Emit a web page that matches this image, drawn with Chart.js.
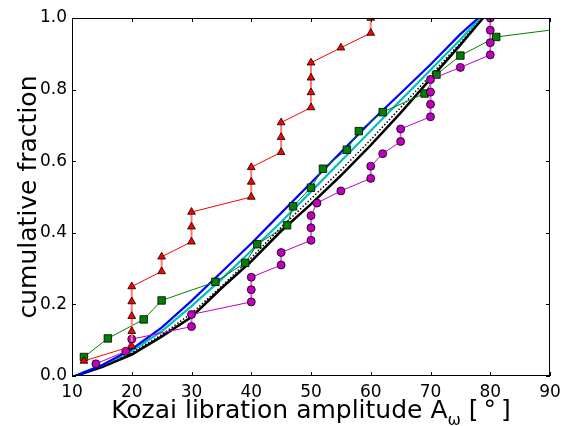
<!DOCTYPE html>
<html lang="en">
<head>
    <meta charset="UTF-8">
    <title>Kozai libration amplitude - cumulative fraction</title>
    <script src="https://cdn.jsdelivr.net/npm/chart.js"></script>
    <style>
        body {
            margin: 0;
            background-color: white;
        }
    </style>
</head>
<body>
    <canvas id="cdfChart" width="570" height="426"></canvas>

    <script>
        // axis ticks
        const xTickVals = [10, 20, 30, 40, 50, 60, 70, 80, 90];
        const yTickVals = [0, 0.2, 0.4, 0.6, 0.8, 1.0];
        const yTickLabels = ['0.0', '0.2', '0.4', '0.6', '0.8', '1.0'];

        // red triangles
        const redX = [12, 20, 20, 20, 20, 20, 25, 25, 30, 30, 30, 40, 40, 40, 45, 45, 45, 50, 50, 50, 50, 55, 60, 60];
        const redY = [0.042, 0.083, 0.125, 0.167, 0.208, 0.25, 0.292, 0.333, 0.375, 0.417, 0.458, 0.5, 0.542, 0.583,
                      0.625, 0.667, 0.708, 0.75, 0.792, 0.833, 0.875, 0.917, 0.958, 1.0];

        // green squares (last one sits off the right edge)
        const greenX = [12, 16, 22, 25, 34, 39, 41, 46, 47, 50, 52, 56, 58, 62, 69, 71, 75, 81, 106];
        const greenY = [0.053, 0.105, 0.158, 0.211, 0.263, 0.316, 0.368, 0.421, 0.474, 0.526, 0.579, 0.632,
                        0.684, 0.737, 0.789, 0.842, 0.895, 0.947, 1.0];

        // magenta circles
        const magX = [14, 19, 20, 30, 30, 40, 40, 40, 45, 45, 50, 50, 50, 51, 55, 60, 60, 62, 65, 65, 70, 70, 70, 70,
                      75, 80, 80, 80, 80];
        const magY = [0.034, 0.069, 0.103, 0.138, 0.172, 0.207, 0.241, 0.276, 0.310, 0.345, 0.379, 0.414, 0.448,
                      0.483, 0.517, 0.552, 0.586, 0.621, 0.655, 0.690, 0.724, 0.759, 0.793, 0.828, 0.862, 0.897,
                      0.931, 0.966, 1.0];

        // smooth curves
        const blueX = [10.5, 12, 15, 20, 25, 30, 35, 40, 45, 50, 55, 60, 65, 70, 75, 78];
        const blueY = [0, 0.01, 0.03, 0.075, 0.135, 0.21, 0.29, 0.37, 0.455, 0.54, 0.625, 0.71, 0.79, 0.87, 0.955, 1.0];
        const cyanX = [10.5, 12, 15, 20, 25, 30, 35, 40, 45, 50, 55, 60, 65, 70, 75, 78.3];
        const cyanY = [0, 0.012, 0.03, 0.07, 0.125, 0.195, 0.27, 0.35, 0.43, 0.515, 0.6, 0.685, 0.77, 0.855, 0.94, 1.0];
        const dotX = [10.5, 12, 15, 20, 25, 30, 35, 40, 45, 50, 55, 60, 65, 70, 75, 78.5];
        const dotY = [0, 0.01, 0.027, 0.065, 0.115, 0.175, 0.25, 0.33, 0.415, 0.495, 0.575, 0.66, 0.75, 0.84, 0.93, 1.0];
        const blackX = [10.5, 12, 15, 20, 25, 30, 35, 40, 45, 50, 55, 60, 65, 70, 75, 78.8];
        const blackY = [0, 0.008, 0.025, 0.06, 0.11, 0.165, 0.245, 0.32, 0.405, 0.48, 0.56, 0.645, 0.735, 0.83, 0.925, 1.0];

        const FONT = 'DejaVu Sans';

        function pts(xs, ys) {
            return xs.map((x, i) => ({ x: x, y: ys[i] }));
        }

        // vertical steps look lighter and a bit thicker
        function stepStyle(normal, vertical) {
            return {
                borderColor: ctx => ctx.p0.parsed.x === ctx.p1.parsed.x ? vertical : normal,
                borderWidth: ctx => ctx.p0.parsed.x === ctx.p1.parsed.x ? 2 : 1
            };
        }

        // frame, inward ticks on all sides, and axis titles
        const framePlugin = {
            id: 'frame',
            afterDraw(chart) {
                const ctx = chart.ctx;
                const a = chart.chartArea;
                const xs = chart.scales.x, ys = chart.scales.y;
                ctx.save();
                ctx.strokeStyle = 'black';
                ctx.lineWidth = 1;
                ctx.strokeRect(a.left + 0.5, a.top + 0.5, a.right - a.left - 1, a.bottom - a.top - 1);
                ctx.beginPath();
                xTickVals.forEach(v => {
                    const px = Math.round(xs.getPixelForValue(v)) + 0.5;
                    ctx.moveTo(px, a.bottom); ctx.lineTo(px, a.bottom - 4);
                    ctx.moveTo(px, a.top); ctx.lineTo(px, a.top + 4);
                });
                yTickVals.forEach(v => {
                    const py = Math.round(ys.getPixelForValue(v)) + 0.5;
                    ctx.moveTo(a.left, py); ctx.lineTo(a.left + 4, py);
                    ctx.moveTo(a.right, py); ctx.lineTo(a.right - 4, py);
                });
                ctx.stroke();

                // x title with subscript omega
                ctx.fillStyle = 'black';
                ctx.textBaseline = 'alphabetic';
                const main = 'Kozai libration amplitude A';
                const sub = '\u03c9';
                const tail = ' [\u2009\u00b0\u2009]';
                ctx.font = '25px "' + FONT + '"';
                const wMain = ctx.measureText(main).width;
                const wTail = ctx.measureText(tail).width;
                ctx.font = '16px "' + FONT + '"';
                const wSub = ctx.measureText(sub).width;
                const x0 = (a.left + a.right) / 2 - (wMain + wSub + wTail) / 2;
                const base = 418;
                ctx.font = '25px "' + FONT + '"';
                ctx.fillText(main, x0, base);
                ctx.font = '16px "' + FONT + '"';
                ctx.fillText(sub, x0 + wMain, base + 7);
                ctx.font = '25px "' + FONT + '"';
                ctx.fillText(tail, x0 + wMain + wSub, base);

                // y title
                ctx.translate(36, (a.top + a.bottom) / 2);
                ctx.rotate(-Math.PI / 2);
                ctx.textAlign = 'center';
                ctx.fillText('cumulative fraction', 0, 0);
                ctx.restore();
            }
        };

        new Chart(document.getElementById('cdfChart'), {
            type: 'line',
            data: {
                datasets: [
                    {
                        data: pts(redX, redY),
                        borderColor: '#ff0000',
                        borderWidth: 1,
                        pointStyle: 'triangle',
                        pointRadius: 4.5,
                        pointBackgroundColor: '#ff0000',
                        pointBorderColor: 'black',
                        pointBorderWidth: 0.8,
                        segment: stepStyle('#ff0000', '#ff7a7a')
                    },
                    {
                        data: pts(magX, magY),
                        borderColor: '#bf00bf',
                        borderWidth: 1,
                        pointStyle: 'circle',
                        pointRadius: 4,
                        pointBackgroundColor: '#bf00bf',
                        pointBorderColor: 'black',
                        pointBorderWidth: 0.8,
                        segment: stepStyle('#bf00bf', '#df6adf')
                    },
                    {
                        data: pts(greenX, greenY),
                        borderColor: '#008000',
                        borderWidth: 1,
                        pointStyle: 'rect',
                        pointRadius: 5.3,
                        pointBackgroundColor: '#008000',
                        pointBorderColor: 'black',
                        pointBorderWidth: 0.8
                    },
                    {
                        data: pts(blueX, blueY),
                        borderColor: '#0000ff',
                        borderWidth: 2.2,
                        pointRadius: 0
                    },
                    {
                        data: pts(cyanX, cyanY),
                        borderColor: '#00bfbf',
                        borderWidth: 2.2,
                        pointRadius: 0
                    },
                    {
                        data: pts(dotX, dotY),
                        borderColor: 'black',
                        borderWidth: 1.5,
                        borderDash: [1.5, 2],
                        pointRadius: 0
                    },
                    {
                        data: pts(blackX, blackY),
                        borderColor: 'black',
                        borderWidth: 2.5,
                        pointRadius: 0
                    }
                ]
            },
            options: {
                responsive: false,
                animation: false,
                devicePixelRatio: 1,
                layout: {
                    padding: { left: 0, right: 20, top: 18, bottom: 0 }
                },
                plugins: {
                    legend: { display: false },
                    tooltip: { enabled: false }
                },
                scales: {
                    x: {
                        type: 'linear',
                        min: 10,
                        max: 90,
                        grid: { display: false, drawTicks: false },
                        border: { display: false },
                        afterBuildTicks: scale => { scale.ticks = xTickVals.map(v => ({ value: v })); },
                        afterFit: scale => { scale.height = 50; },
                        ticks: {
                            color: 'black',
                            padding: 6,
                            maxRotation: 0,
                            font: { family: FONT, size: 17 }
                        }
                    },
                    y: {
                        type: 'linear',
                        min: 0,
                        max: 1,
                        grid: { display: false, drawTicks: false },
                        border: { display: false },
                        afterBuildTicks: scale => { scale.ticks = yTickVals.map(v => ({ value: v })); },
                        afterFit: scale => { scale.width = 72; },
                        ticks: {
                            color: 'black',
                            padding: 5,
                            font: { family: FONT, size: 17 },
                            callback: (v, i) => yTickLabels[i]
                        }
                    }
                }
            },
            plugins: [framePlugin]
        });
    </script>
</body>
</html>
